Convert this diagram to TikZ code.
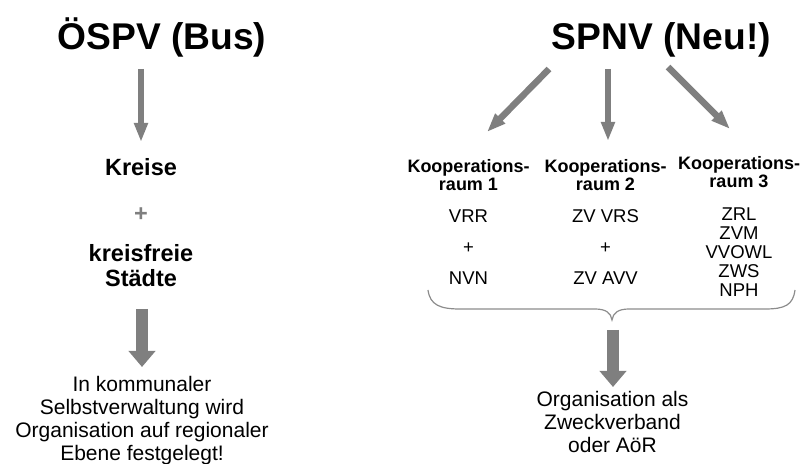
\documentclass[tikz,border=0pt]{standalone}
\usepackage{fontspec}
\setmainfont{Liberation Sans}
\usetikzlibrary{calc}
\usetikzlibrary{arrows.meta}
\definecolor{pfeilgrau}{HTML}{7F7F7F}
\definecolor{klammergrau}{HTML}{8C8C8C}

\begin{document}
\begin{tikzpicture}[x=1bp,y=-1bp,
 titel/.style={font=\fontsize{37.2bp}{40bp}\selectfont\bfseries,anchor=base,inner sep=0},
 ebene/.style={font=\fontsize{23.5bp}{25bp}\selectfont\bfseries,align=center,anchor=base,inner sep=0},
 koop/.style={font=\fontsize{18bp}{18bp}\selectfont\bfseries,align=center,anchor=base,inner sep=0},
 eintrag/.style={font=\fontsize{18.5bp}{31bp}\selectfont,align=center,anchor=base,inner sep=0},
 notiz/.style={font=\fontsize{21bp}{23bp}\selectfont,align=center,anchor=base,inner sep=0},
 duenn/.style={draw=pfeilgrau,line width=6.5bp,-{Triangle[width=13bp,length=19bp]}},
 dick/.style={draw=pfeilgrau,line width=12bp,-{Triangle[width=26bp,length=16bp]}}]
\useasboundingbox (0,0) rectangle (807,464);
\node[titel] (oespv) at (162,50) {ÖSPV (Bus)};
\node[titel] (spnv) at (661.5,50) {SPNV (Neu!)};
\node[ebene] (kreise) at (141,176) {Kreise};
\node[ebene,text=pfeilgrau] (plus) at (141,222) {+};
\node[ebene] (staedte) at (141,287) {kreisfreie\\Städte};
\node[notiz] (selbst) at (142,460) {In kommunaler\\Selbstverwaltung wird\\Organisation auf regionaler\\Ebene festgelegt!};
\node[koop] (raum1) at (468.5,191) {Kooperations-\\raum 1};
\node[koop] (raum2) at (605.5,191) {Kooperations-\\raum 2};
\node[koop] (raum3) at (739,188) {Kooperations-\\raum 3};
\node[eintrag] (vrr) at (468.5,285) {VRR\\+\\NVN};
\node[eintrag] (vrs) at (605.5,285) {ZV VRS\\+\\ZV AVV};
\node[eintrag,font=\fontsize{18.5bp}{19.2bp}\selectfont] (zrl) at (739,297) {ZRL\\ZVM\\VVOWL\\ZWS\\NPH};
\node[notiz] (zweck) at (612.5,452) {Organisation als\\Zweckverband\\oder AöR};
\coordinate (a0) at (141,69);
\coordinate (b0) at (141,142);
\coordinate (a1) at (549,69);
\coordinate (b1) at (487,132);
\coordinate (a2) at (608,69);
\coordinate (b2) at (608,141);
\coordinate (a3) at (668,67);
\coordinate (b3) at (730,129);
\coordinate (c0) at (142,309);
\coordinate (d0) at (142,367);
\coordinate (spitze) at (612,320);
\coordinate (c1) at (613,330);
\coordinate (d1) at (613,387);
\draw[duenn] (a0) -- (b0);
\draw[duenn] (a1) -- (b1);
\draw[duenn] (a2) -- (b2);
\draw[duenn] (a3) -- (b3);
\draw[dick] (c0) -- (d0);
\draw[dick] (c1) -- (d1);
\draw[klammergrau,line width=1.2bp] (428,290) .. controls (430,305) and (440,309) .. (460,309) -- (595,309)
 .. controls (606,309) and (611,313) .. (spitze) .. controls (613,313) and (618,309) .. (629,309)
 -- (765,309) .. controls (785,309) and (793,305) .. (795,290);
\end{tikzpicture}
\end{document}
